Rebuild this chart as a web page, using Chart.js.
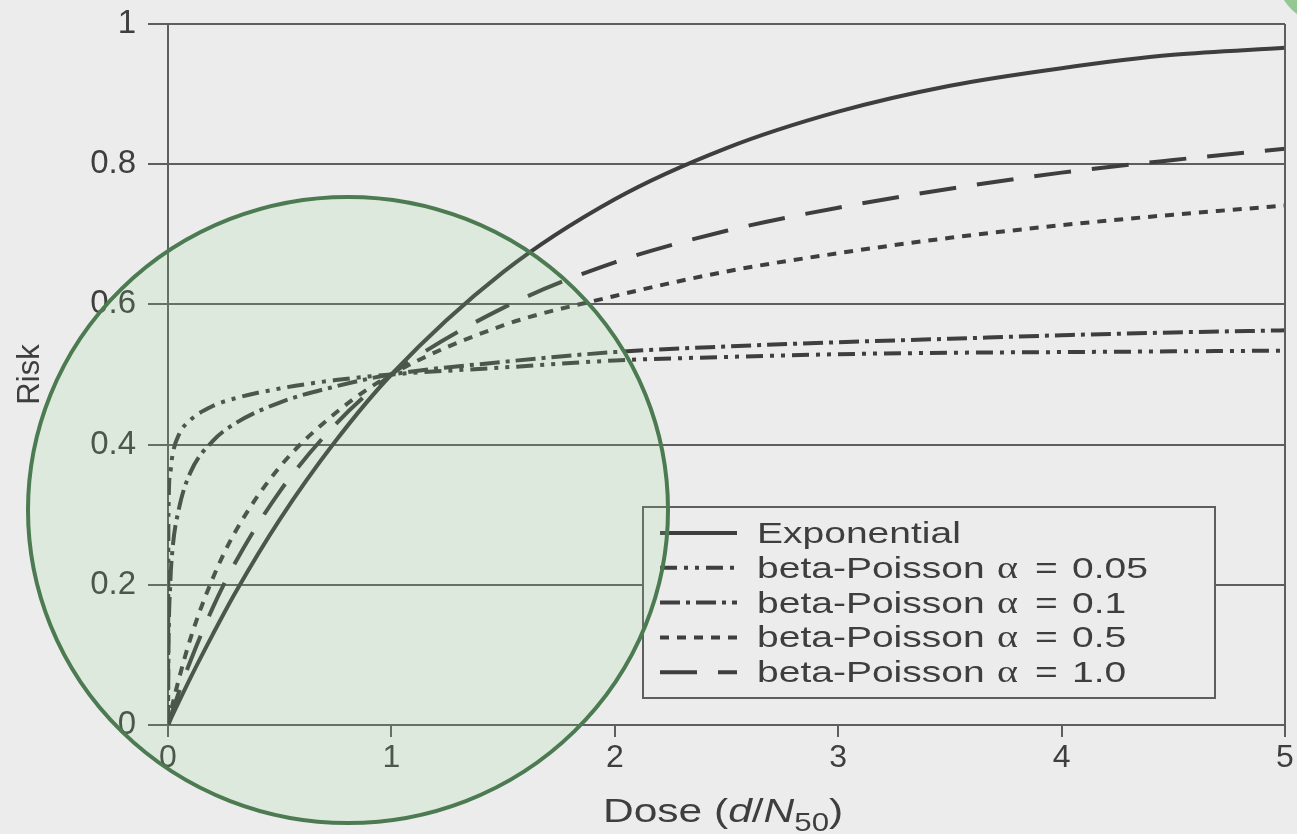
<!DOCTYPE html>
<html>
<head>
<meta charset="utf-8">
<title>Risk vs dose</title>
<script src="https://cdn.jsdelivr.net/npm/chart.js@4.4.1/dist/chart.umd.min.js"></script>
<style>
  html, body { margin: 0; padding: 0; background: #ececec; }
  #wrap { width: 1297px; height: 834px; }
</style>
</head>
<body>
<div id="wrap"><canvas id="myChart" width="1297" height="834"></canvas></div>
<script>
// Dose (d/N50) where the curves were read
const doses = [0, 0.002, 0.01, 0.02, 0.05, 0.1, 0.2, 0.3, 0.5, 0.75, 1, 1.5, 2, 2.5, 3, 3.5, 4, 4.5, 5];

// Risk for each curve
const riskExponential = [0, 0.001, 0.007, 0.014, 0.034, 0.067, 0.129, 0.188, 0.293, 0.405, 0.5, 0.646, 0.75, 0.823, 0.875, 0.912, 0.937, 0.956, 0.966];
const riskBeta005 = [0, 0.3, 0.36, 0.385, 0.415, 0.435, 0.455, 0.466, 0.48, 0.492, 0.5, 0.51, 0.52, 0.525, 0.529, 0.531, 0.532, 0.533, 0.534];
const riskBeta01  = [0, 0.1, 0.2, 0.25, 0.31, 0.36, 0.405, 0.43, 0.46, 0.483, 0.5, 0.518, 0.532, 0.54, 0.546, 0.551, 0.556, 0.56, 0.563];
const riskBeta05  = [0, 0.003, 0.015, 0.029, 0.067, 0.123, 0.209, 0.275, 0.368, 0.445, 0.5, 0.57, 0.612, 0.647, 0.673, 0.695, 0.713, 0.728, 0.741];
const riskBeta1   = [0, 0.002, 0.01, 0.02, 0.048, 0.091, 0.167, 0.231, 0.333, 0.429, 0.5, 0.595, 0.66, 0.705, 0.738, 0.765, 0.788, 0.806, 0.822];

const seriesNames = ['Exponential', 'beta-Poisson', 'beta-Poisson', 'beta-Poisson', 'beta-Poisson'];
const alphaValues = ['', '0.05', '0.1', '0.5', '1.0'];

const xTicks = [0, 1, 2, 3, 4, 5];
const yTicks = [0, 0.2, 0.4, 0.6, 0.8, 1];
const yTickLabels = ['0', '0.2', '0.4', '0.6', '0.8', '1'];

const inkColor = '#3e3e3e';
const gridColor = '#5e5e5e';
const paperColor = '#ececec';

function toPoints(values) {
    return doses.map((d, i) => ({ x: d, y: values[i] }));
}

const allRisks = [riskExponential, riskBeta005, riskBeta01, riskBeta05, riskBeta1];
const dashes = [[], [17, 7, 4, 7, 4, 7], [20, 6, 4, 6], [9, 8], [37, 21]];

const datasets = allRisks.map((r, i) => ({
    label: alphaValues[i] ? seriesNames[i] + ' α = ' + alphaValues[i] : seriesNames[i],
    data: toPoints(r),
    borderColor: inkColor,
    borderWidth: 4,
    borderDash: dashes[i],
    pointRadius: 0,
    fill: false,
    cubicInterpolationMode: 'monotone'
}));

function stretchText(ctx, txt, x, y, sx) {
    ctx.save();
    ctx.translate(x, y);
    ctx.scale(sx, 1);
    ctx.fillText(txt, 0, 0);
    ctx.restore();
}

// legend drawn inside the plot, with a frame like the printed figure
const boxLegend = {
    id: 'boxLegend',
    afterDraw(chart) {
        const ctx = chart.ctx;
        ctx.save();
        ctx.fillStyle = paperColor;
        ctx.fillRect(643, 507, 572, 191);
        ctx.lineWidth = 2;
        ctx.strokeStyle = gridColor;
        ctx.strokeRect(643, 507, 572, 191);

        chart.data.datasets.forEach((ds, i) => {
            const yLine = 533 + i * 34.8;
            ctx.beginPath();
            ctx.setLineDash(ds.borderDash);
            ctx.lineWidth = 4;
            ctx.strokeStyle = inkColor;
            ctx.moveTo(660, yLine);
            ctx.lineTo(737, yLine);
            ctx.stroke();
            ctx.setLineDash([]);

            const parts = ds.label.split(' α = ');
            ctx.fillStyle = inkColor;
            ctx.font = '30px "Liberation Sans", Arial, sans-serif';
            ctx.textBaseline = 'alphabetic';
            stretchText(ctx, parts[0], 757, yLine + 10, 1.3);
            if (parts.length > 1) {
                ctx.font = '32px "Liberation Serif", serif';
                stretchText(ctx, 'α', 997, yLine + 10, 1.25);
                ctx.font = '30px "Liberation Sans", Arial, sans-serif';
                stretchText(ctx, '=', 1035, yLine + 10, 1.3);
                stretchText(ctx, parts[1], 1072, yLine + 10, 1.3);
            }
        });
        ctx.restore();
    }
};

// x title with italic d, N and subscript 50
const doseTitle = {
    id: 'doseTitle',
    afterDraw(chart) {
        const ctx = chart.ctx;
        const base = 822;
        const sx = 1.25;
        const pieces = [
            ['Dose (', 'normal', 34, 0],
            ['d', 'italic', 34, 0],
            ['/', 'normal', 34, 0],
            ['N', 'italic', 34, 0],
            ['50', 'normal', 25, 9],
            [')', 'normal', 34, 0]
        ];
        let x = 603;
        ctx.save();
        ctx.fillStyle = inkColor;
        ctx.textBaseline = 'alphabetic';
        pieces.forEach(p => {
            ctx.font = p[1] + ' ' + p[2] + 'px "Liberation Sans", Arial, sans-serif';
            stretchText(ctx, p[0], x, base + p[3], sx);
            x += ctx.measureText(p[0]).width * sx;
        });
        ctx.restore();
    }
};

// right frame line and the green highlight circle over the figure
const frameAndCircle = {
    id: 'frameAndCircle',
    afterDraw(chart) {
        const ctx = chart.ctx;
        const a = chart.chartArea;
        ctx.save();
        ctx.strokeStyle = gridColor;
        ctx.lineWidth = 2;
        ctx.beginPath();
        ctx.moveTo(a.right, a.top);
        ctx.lineTo(a.right, a.bottom);
        ctx.stroke();

        ctx.beginPath();
        ctx.ellipse(348, 510, 320, 313, 0, 0, Math.PI * 2);
        ctx.fillStyle = 'rgba(150, 215, 150, 0.16)';
        ctx.fill();
        ctx.lineWidth = 4;
        ctx.strokeStyle = '#4c7b52';
        ctx.stroke();

        ctx.beginPath();
        ctx.arc(1330, -30, 55, 0, Math.PI * 2);
        ctx.fillStyle = 'rgba(110, 185, 110, 0.7)';
        ctx.fill();
        ctx.restore();
    }
};

Chart.defaults.font.family = '"Liberation Sans", Arial, sans-serif';
Chart.defaults.color = inkColor;

const config = {
    type: 'line',
    data: { datasets: datasets },
    options: {
        responsive: false,
        animation: false,
        layout: { padding: { top: 24, right: 12, left: 0, bottom: 0 } },
        plugins: {
            legend: { display: false },
            tooltip: { enabled: false }
        },
        scales: {
            x: {
                type: 'linear',
                min: 0,
                max: 5,
                afterBuildTicks: (scale) => { scale.ticks = xTicks.map(v => ({ value: v })); },
                afterFit: (scale) => {
                    scale.height = 109;
                    scale.paddingLeft = 0;
                    scale.paddingRight = 0;
                },
                ticks: { font: { size: 32 }, padding: 2, color: inkColor, maxRotation: 0 },
                grid: { drawOnChartArea: false, tickLength: 12, color: gridColor, lineWidth: 2 },
                border: { color: gridColor, width: 2 }
            },
            y: {
                min: 0,
                max: 1,
                afterBuildTicks: (scale) => { scale.ticks = yTicks.map(v => ({ value: v })); },
                afterFit: (scale) => {
                    scale.width = 168;
                    scale.paddingTop = 0;
                    scale.paddingBottom = 0;
                },
                ticks: {
                    font: { size: 33 },
                    padding: 12,
                    color: inkColor,
                    callback: (value, index) => yTickLabels[index]
                },
                grid: { color: gridColor, lineWidth: 2, tickLength: 20 },
                border: { color: gridColor, width: 2 },
                title: {
                    display: true,
                    text: 'Risk',
                    font: { size: 31 },
                    color: inkColor,
                    padding: { top: 12, bottom: 0 }
                }
            }
        }
    },
    plugins: [boxLegend, doseTitle, frameAndCircle]
};

const myChart = new Chart(document.getElementById('myChart'), config);
</script>
</body>
</html>
